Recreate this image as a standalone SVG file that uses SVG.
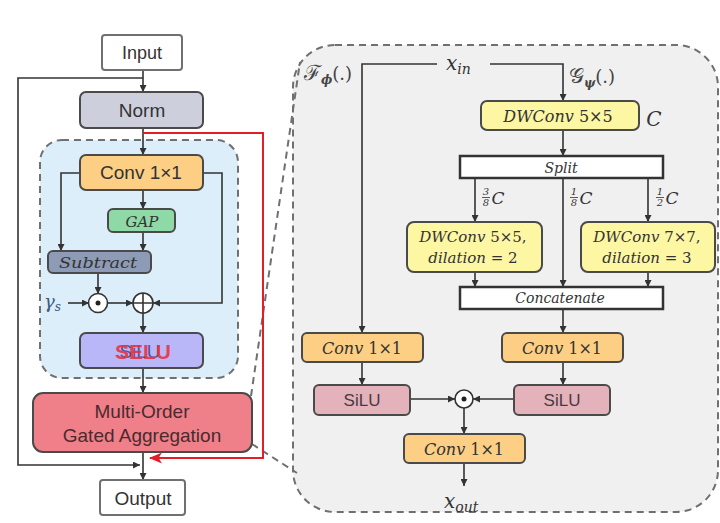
<svg xmlns="http://www.w3.org/2000/svg" width="720" height="523" viewBox="0 0 720 523">
<defs>
<marker id="a" viewBox="0 0 10 10" refX="10" refY="5" markerWidth="7" markerHeight="7" markerUnits="userSpaceOnUse" orient="auto"><path d="M0,0 L10,5 L0,10 z" fill="#333"/></marker>
<marker id="r" viewBox="0 0 12 10" refX="11" refY="5" markerWidth="13" markerHeight="11" markerUnits="userSpaceOnUse" orient="auto"><path d="M0,0 L12,5 L0,10 L3,5 z" fill="#e41e26"/></marker>
<style>
.bx{stroke:#4a4a4a;stroke-width:2}
.wb{fill:#fff;stroke:#707070;stroke-width:2}
.ln{fill:none;stroke:#333;stroke-width:1.6}
.ar{fill:none;stroke:#333;stroke-width:1.6;marker-end:url(#a)}
.dash{fill:none;stroke:#707070;stroke-width:2;stroke-dasharray:7 5}
.s{font-family:"Liberation Sans",Arial,sans-serif;fill:#333;text-anchor:middle}
.m{font-family:"DejaVu Serif","Liberation Serif",serif;font-style:italic;fill:#333;text-anchor:middle}
.mu{font-family:"DejaVu Serif","Liberation Serif",serif;font-style:normal}
</style>
</defs>
<rect width="720" height="523" fill="#fff"/>

<!-- right expanded container -->
<rect x="293" y="45" width="425" height="467" rx="42" fill="#f0f0f0" stroke="#707070" stroke-width="2" stroke-dasharray="7 5"/>
<!-- zoom lines -->
<line class="dash" x1="251" y1="396" x2="300" y2="62"/>
<line class="dash" x1="252" y1="444" x2="297" y2="473"/>

<!-- left container -->
<rect x="40" y="140" width="198" height="238" rx="22" fill="#ddeefb" stroke="#707070" stroke-width="2" stroke-dasharray="7 5"/>

<g id="connectors">
<path class="ar" d="M143,70 V92"/>
<path class="ar" d="M143,78 H18 V465 H140"/>
<path class="ar" d="M143,128 V155"/>
<path d="M143,133 H263 V458 H150" fill="none" stroke="#e41e26" stroke-width="2" marker-end="url(#r)"/>
<path class="ar" d="M143,190 V209"/>
<path class="ar" d="M143,232 V251"/>
<path class="ar" d="M80,173 H61 V251"/>
<path class="ar" d="M203,173 H222 V303 H153"/>
<path class="ar" d="M98,273 V294"/>
<path class="ar" d="M68,303 H89"/>
<path class="ar" d="M107,303 H133"/>
<path class="ar" d="M143,313 V333"/>
<path class="ar" d="M143,368 V393"/>
<path class="ar" d="M143,452 V480"/>
<!-- right side -->
<path class="ar" d="M437,64 H362 V333"/>
<path class="ar" d="M490,64 H563 V101"/>
<path class="ar" d="M563,130 V156"/>
<path class="ar" d="M475,178 V222"/>
<path class="ar" d="M563,178 V287"/>
<path class="ar" d="M648,178 V222"/>
<path class="ar" d="M475,272 V287"/>
<path class="ar" d="M648,272 V287"/>
<path class="ar" d="M563,309 V333"/>
<path class="ar" d="M362,362 V385"/>
<path class="ar" d="M563,362 V385"/>
<path class="ar" d="M410,399 H455"/>
<path class="ar" d="M514,399 H473"/>
<path class="ar" d="M464,408 V434"/>
<path class="ar" d="M464,463 V486"/>
</g>

<g id="input"><rect class="wb" x="102" y="35" width="80" height="35" rx="3"/><text class="s" x="142" y="59" font-size="18">Input</text></g>
<g id="norm"><rect class="bx" x="80" y="92" width="123" height="36" rx="6" fill="#cdd0dc"/><text class="s" x="142" y="117" font-size="19">Norm</text></g>
<g id="conv-left"><rect class="bx" x="80" y="155" width="123" height="35" rx="6" fill="#fccf84"/><text class="s" x="141" y="179" font-size="19">Conv 1×1</text></g>
<g id="gap"><rect class="bx" x="108" y="209" width="67" height="23" rx="5" fill="#8ed9a6" stroke-width="1.6"/><text class="m" x="142" y="227" font-size="15">GAP</text></g>
<g id="subtract"><rect class="bx" x="48" y="251" width="103" height="22" rx="5" fill="#8d9bb6" stroke-width="1.6"/><text class="m" x="98" y="268" font-size="15" textLength="78" lengthAdjust="spacingAndGlyphs">Subtract</text></g>
<g id="gamma"><text x="44" y="308" font-family="DejaVu Serif,serif" font-style="italic" font-size="18" fill="#3b5a78">γ<tspan font-size="12" dy="3">s</tspan></text></g>
<g id="odot-left"><circle cx="98" cy="303" r="9.5" fill="#fff" stroke="#333" stroke-width="1.6"/><circle cx="98" cy="303" r="2.5" fill="#222"/></g>
<g id="oplus"><circle cx="143" cy="303" r="10" fill="#fff" stroke="#333" stroke-width="1.6"/><path d="M133,303 H153 M143,293 V313" stroke="#333" stroke-width="1.6"/></g>
<g id="selu"><rect class="bx" x="80" y="333" width="123" height="35" rx="6" fill="#b9b7f7"/><text class="s" x="140" y="358" font-size="19" style="fill:#4c56a8">SiLU</text><text class="s" x="143" y="359" font-size="21" font-weight="bold" style="fill:#e8323c;fill-opacity:0.9">SELU</text></g>
<g id="moga"><rect class="bx" x="33" y="393" width="219" height="59" rx="10" fill="#ef8089"/><text class="s" x="142" y="418" font-size="19" style="fill:#4a2a2e">Multi-Order</text><text class="s" x="142" y="442" font-size="19" style="fill:#4a2a2e">Gated Aggregation</text></g>
<g id="output"><rect class="wb" x="100" y="480" width="85" height="35" rx="3"/><text class="s" x="143" y="505" font-size="19">Output</text></g>

<!-- right side -->
<g id="xin"><text x="446" y="70" font-family="DejaVu Serif,serif" font-style="italic" font-size="20" fill="#333">x<tspan font-size="14" dy="4">in</tspan></text></g>
<g id="f-phi"><text x="304" y="80" font-family="DejaVu Serif,serif" font-size="21" fill="#444">ℱ<tspan font-size="12" dy="4" font-style="italic" font-weight="bold">ϕ</tspan><tspan dy="-4" font-size="18">(.)</tspan></text></g>
<g id="g-psi"><text x="569" y="83" font-family="DejaVu Serif,serif" font-size="21" fill="#444">𝒢<tspan font-size="12" dy="4" font-style="italic" font-weight="bold">ψ</tspan><tspan dy="-4" font-size="18">(.)</tspan></text></g>
<g id="dwconv-top"><rect class="bx" x="481" y="101" width="158" height="29" rx="6" fill="#fdf6a3"/><text class="m" x="558" y="122" font-size="16">DWConv<tspan class="mu"> 5×5</tspan></text></g>
<g id="c-label"><text class="m" x="654" y="126" font-size="20">C</text></g>
<g id="split"><rect x="460" y="156" width="203" height="22" fill="#fff" stroke="#333" stroke-width="2.5"/><text class="m" x="561" y="173" font-size="14">Split</text></g>
<g id="frac1"><text class="m" x="486" y="195" font-size="10">3</text><line x1="482" y1="197.5" x2="490" y2="197.5" stroke="#333" stroke-width="0.8"/><text class="m" x="486" y="206" font-size="10">8</text><text class="m" x="498" y="204" font-size="17">C</text></g>
<g id="frac2"><text class="m" x="574" y="195" font-size="10">1</text><line x1="570" y1="197.5" x2="578" y2="197.5" stroke="#333" stroke-width="0.8"/><text class="m" x="574" y="206" font-size="10">8</text><text class="m" x="586" y="204" font-size="17">C</text></g>
<g id="frac3"><text class="m" x="660" y="195" font-size="10">1</text><line x1="656" y1="197.5" x2="664" y2="197.5" stroke="#333" stroke-width="0.8"/><text class="m" x="660" y="206" font-size="10">2</text><text class="m" x="672" y="204" font-size="17">C</text></g>
<g id="dw-dil2"><rect class="bx" x="407" y="222" width="135" height="50" rx="7" fill="#fdf6a3"/><text class="m" x="473" y="242" font-size="15">DWConv<tspan class="mu"> 5×5,</tspan></text><text class="m" x="473" y="263" font-size="15">dilation<tspan class="mu"> = 2</tspan></text></g>
<g id="dw-dil3"><rect class="bx" x="581" y="222" width="134" height="50" rx="7" fill="#fdf6a3"/><text class="m" x="647" y="242" font-size="15">DWConv<tspan class="mu"> 7×7,</tspan></text><text class="m" x="647" y="263" font-size="15">dilation<tspan class="mu"> = 3</tspan></text></g>
<g id="concat"><rect x="460" y="287" width="203" height="22" fill="#fff" stroke="#333" stroke-width="2.5"/><text class="m" x="560" y="303" font-size="14">Concatenate</text></g>
<g id="conv-f"><rect class="bx" x="302" y="333" width="121" height="29" rx="5" fill="#fccf84"/><text class="m" x="362" y="354" font-size="16">Conv<tspan class="mu"> 1×1</tspan></text></g>
<g id="conv-g"><rect class="bx" x="502" y="333" width="121" height="29" rx="5" fill="#fccf84"/><text class="m" x="562" y="354" font-size="16">Conv<tspan class="mu"> 1×1</tspan></text></g>
<g id="silu-f"><rect class="bx" x="314" y="385" width="96" height="30" rx="5" fill="#e3b2bb"/><text class="s" x="362" y="406" font-size="17" style="fill:#4a3a40">SiLU</text></g>
<g id="silu-g"><rect class="bx" x="514" y="385" width="96" height="30" rx="5" fill="#e3b2bb"/><text class="s" x="562" y="406" font-size="17" style="fill:#4a3a40">SiLU</text></g>
<g id="odot-right"><circle cx="464" cy="399" r="9" fill="#fff" stroke="#333" stroke-width="1.6"/><circle cx="464" cy="399" r="2.5" fill="#222"/></g>
<g id="conv-out"><rect class="bx" x="404" y="434" width="121" height="29" rx="5" fill="#fccf84"/><text class="m" x="464" y="455" font-size="16">Conv<tspan class="mu"> 1×1</tspan></text></g>
<g id="xout"><text x="444" y="508" font-family="DejaVu Serif,serif" font-style="italic" font-size="20" fill="#333">x<tspan font-size="14" dy="4">out</tspan></text></g>
</svg>
